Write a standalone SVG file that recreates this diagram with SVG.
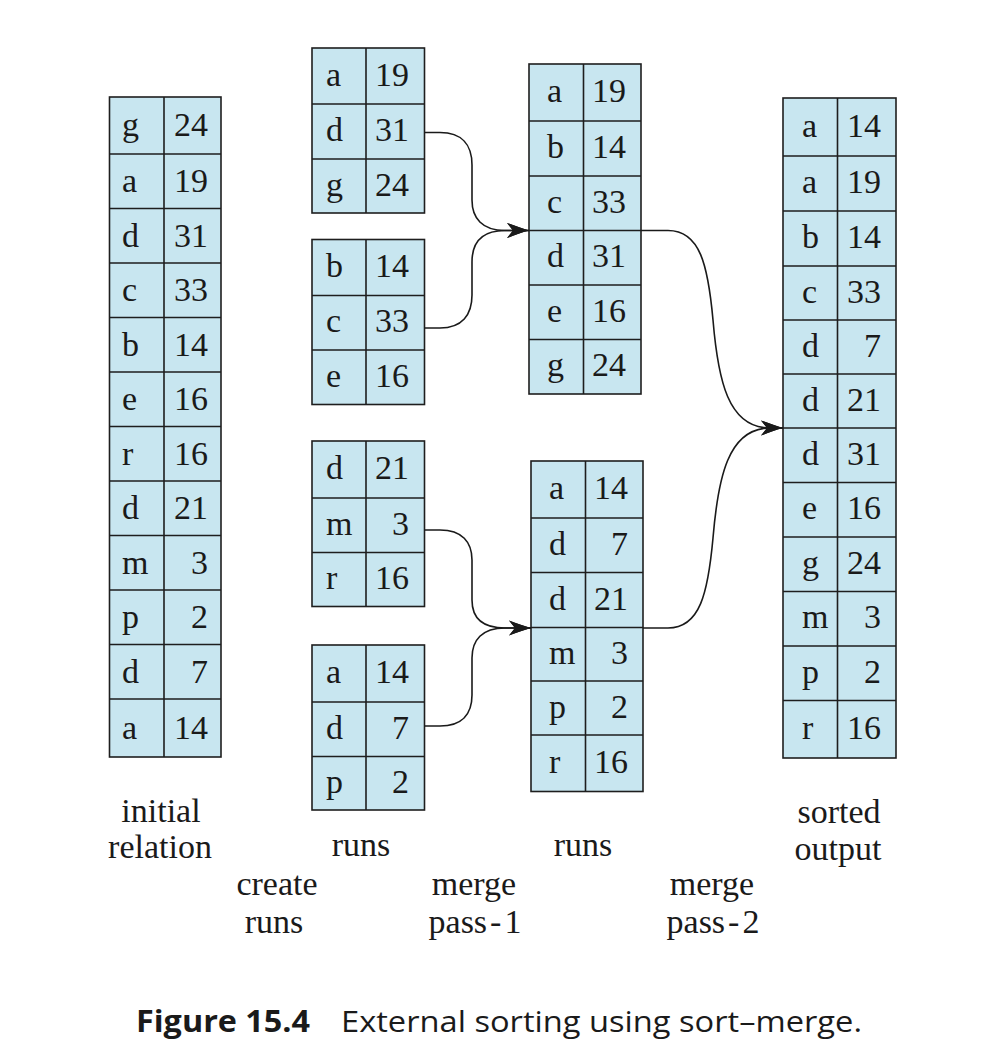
<svg xmlns="http://www.w3.org/2000/svg" width="1000" height="1061" viewBox="0 0 1000 1061">
  <defs>
    <style>
      .box { fill: #c8e6f0; stroke: #1e1e1e; stroke-width: 1.6; }
      .grid { fill: none; stroke: #1e1e1e; stroke-width: 1.6; }
      .cell { font-family: "Liberation Serif", "Times New Roman", serif; font-size: 34px; fill: #1a1a1a; }
      .num { text-anchor: end; }
      .label { font-family: "Liberation Serif", "Times New Roman", serif; font-size: 34px; fill: #1a1a1a; text-anchor: middle; }
      .conn { fill: none; stroke: #1a1a1a; stroke-width: 1.6; }
      .cap { font-family: "Open Sans", "Noto Sans", sans-serif; font-size: 30px; fill: #1a1a1a; }
    </style>
    <marker id="arrowhead" markerUnits="userSpaceOnUse" viewBox="-23 -8 25 16" refX="0" refY="0" markerWidth="25" markerHeight="16" orient="auto">
      <path d="M0,0 C-6,-1.5 -14,-4.5 -22,-7.5 L-16,0 L-22,7.5 C-14,4.5 -6,1.5 0,0 Z" fill="#1a1a1a"/>
    </marker>
  </defs>

  <rect width="1000" height="1061" fill="#ffffff"/>

  <!-- initial relation -->
  <g id="initial-relation">
    <rect class="box" x="109.5" y="97" width="111.5" height="660"/>
    <path class="grid" d="M164,97 V757 M109.5,154 H221 M109.5,208.5 H221 M109.5,263 H221 M109.5,317.5 H221 M109.5,372 H221 M109.5,426.5 H221 M109.5,481 H221 M109.5,535.5 H221 M109.5,590 H221 M109.5,644.5 H221 M109.5,699 H221"/>
    <g class="cell">
      <text x="122" y="136">g</text><text class="num" x="208" y="136">24</text>
      <text x="122" y="192">a</text><text class="num" x="208" y="192">19</text>
      <text x="122" y="246.5">d</text><text class="num" x="208" y="246.5">31</text>
      <text x="122" y="301">c</text><text class="num" x="208" y="301">33</text>
      <text x="122" y="355.5">b</text><text class="num" x="208" y="355.5">14</text>
      <text x="122" y="410">e</text><text class="num" x="208" y="410">16</text>
      <text x="122" y="464.5">r</text><text class="num" x="208" y="464.5">16</text>
      <text x="122" y="519">d</text><text class="num" x="208" y="519">21</text>
      <text x="122" y="573.5">m</text><text class="num" x="208" y="573.5">3</text>
      <text x="122" y="628">p</text><text class="num" x="208" y="628">2</text>
      <text x="122" y="682.5">d</text><text class="num" x="208" y="682.5">7</text>
      <text x="122" y="739">a</text><text class="num" x="208" y="739">14</text>
    </g>
  </g>

  <!-- runs created from the initial relation -->
  <g id="run-1">
    <rect class="box" x="312" y="48" width="112.5" height="165"/>
    <path class="grid" d="M366,48 V213 M312,104 H424.5 M312,159 H424.5"/>
    <g class="cell">
      <text x="326" y="85.5">a</text><text class="num" x="409" y="85.5">19</text>
      <text x="326" y="141">d</text><text class="num" x="409" y="141">31</text>
      <text x="326" y="195.5">g</text><text class="num" x="409" y="195.5">24</text>
    </g>
  </g>
  <g id="run-2">
    <rect class="box" x="312" y="239.5" width="112.5" height="165"/>
    <path class="grid" d="M366,239.5 V404.5 M312,295.5 H424.5 M312,350 H424.5"/>
    <g class="cell">
      <text x="326" y="277">b</text><text class="num" x="409" y="277">14</text>
      <text x="326" y="332.3">c</text><text class="num" x="409" y="332.3">33</text>
      <text x="326" y="386.8">e</text><text class="num" x="409" y="386.8">16</text>
    </g>
  </g>
  <g id="run-3">
    <rect class="box" x="312" y="441" width="112.5" height="165.5"/>
    <path class="grid" d="M366,441 V606.5 M312,498 H424.5 M312,552.5 H424.5"/>
    <g class="cell">
      <text x="326" y="479">d</text><text class="num" x="409" y="479">21</text>
      <text x="326" y="534.8">m</text><text class="num" x="409" y="534.8">3</text>
      <text x="326" y="589">r</text><text class="num" x="409" y="589">16</text>
    </g>
  </g>
  <g id="run-4">
    <rect class="box" x="312" y="645" width="112.5" height="165"/>
    <path class="grid" d="M366,645 V810 M312,702 H424.5 M312,756.5 H424.5"/>
    <g class="cell">
      <text x="326" y="683">a</text><text class="num" x="409" y="683">14</text>
      <text x="326" y="738.8">d</text><text class="num" x="409" y="738.8">7</text>
      <text x="326" y="792.8">p</text><text class="num" x="409" y="792.8">2</text>
    </g>
  </g>

  <!-- runs after merge pass 1 -->
  <g id="merged-run-1">
    <rect class="box" x="529" y="64" width="112" height="330"/>
    <path class="grid" d="M583.5,64 V394 M529,121 H641 M529,176 H641 M529,230.5 H641 M529,285 H641 M529,339.5 H641"/>
    <g class="cell">
      <text x="547" y="102">a</text><text class="num" x="626" y="102">19</text>
      <text x="547" y="158">b</text><text class="num" x="626" y="158">14</text>
      <text x="547" y="212.8">c</text><text class="num" x="626" y="212.8">33</text>
      <text x="547" y="267.3">d</text><text class="num" x="626" y="267.3">31</text>
      <text x="547" y="321.8">e</text><text class="num" x="626" y="321.8">16</text>
      <text x="547" y="376.3">g</text><text class="num" x="626" y="376.3">24</text>
    </g>
  </g>
  <g id="merged-run-2">
    <rect class="box" x="531" y="461" width="112" height="330.5"/>
    <path class="grid" d="M585.5,461 V791.5 M531,518 H643 M531,572.5 H643 M531,627.5 H643 M531,681 H643 M531,735 H643"/>
    <g class="cell">
      <text x="549" y="499">a</text><text class="num" x="628" y="499">14</text>
      <text x="549" y="554.8">d</text><text class="num" x="628" y="554.8">7</text>
      <text x="549" y="609.5">d</text><text class="num" x="628" y="609.5">21</text>
      <text x="549" y="663.8">m</text><text class="num" x="628" y="663.8">3</text>
      <text x="549" y="717.5">p</text><text class="num" x="628" y="717.5">2</text>
      <text x="549" y="772.8">r</text><text class="num" x="628" y="772.8">16</text>
    </g>
  </g>

  <!-- final sorted output -->
  <g id="sorted-output">
    <rect class="box" x="783" y="98" width="113" height="660"/>
    <path class="grid" d="M837.5,98 V758 M783,156 H896 M783,211 H896 M783,266 H896 M783,320 H896 M783,374 H896 M783,428 H896 M783,482.5 H896 M783,537 H896 M783,591.5 H896 M783,646 H896 M783,700.5 H896"/>
    <g class="cell">
      <text x="802" y="136.5">a</text><text class="num" x="881" y="136.5">14</text>
      <text x="802" y="193">a</text><text class="num" x="881" y="193">19</text>
      <text x="802" y="248">b</text><text class="num" x="881" y="248">14</text>
      <text x="802" y="302.5">c</text><text class="num" x="881" y="302.5">33</text>
      <text x="802" y="356.5">d</text><text class="num" x="881" y="356.5">7</text>
      <text x="802" y="410.5">d</text><text class="num" x="881" y="410.5">21</text>
      <text x="802" y="464.8">d</text><text class="num" x="881" y="464.8">31</text>
      <text x="802" y="519.3">e</text><text class="num" x="881" y="519.3">16</text>
      <text x="802" y="573.8">g</text><text class="num" x="881" y="573.8">24</text>
      <text x="802" y="628.3">m</text><text class="num" x="881" y="628.3">3</text>
      <text x="802" y="682.8">p</text><text class="num" x="881" y="682.8">2</text>
      <text x="802" y="738.8">r</text><text class="num" x="881" y="738.8">16</text>
    </g>
  </g>

  <!-- merge connectors -->
  <g id="connectors">
    <path class="conn" marker-end="url(#arrowhead)" d="M424.5,132.5 L440,132.5 C462,132.5 472,145 472,165 L472,200 C472,218 482,230.5 505,230.5 L529,230.5"/>
    <path class="conn" marker-end="url(#arrowhead)" d="M424.5,328 L440,328 C462,328 472,315 472,295 L472,262 C472,242 482,230.5 505,230.5 L529,230.5"/>
    <path class="conn" marker-end="url(#arrowhead)" d="M424.5,530 L440,530 C462,530 472,542 472,560 L472,600 C472,618 482,628 505,628 L531,628"/>
    <path class="conn" marker-end="url(#arrowhead)" d="M424.5,726 L440,726 C462,726 472,714 472,695 L472,658 C472,640 482,628 505,628 L531,628"/>
    <path class="conn" marker-end="url(#arrowhead)" d="M641,230.5 L668,230.5 C700,230.5 708,265 713,320 C718,380 728,428 770,428 L783,428"/>
    <path class="conn" marker-end="url(#arrowhead)" d="M643,628 L668,628 C700,628 708,593 713,538 C718,478 728,428 770,428 L783,428"/>
  </g>

  <!-- stage labels -->
  <g id="labels">
    <text class="label" x="161" y="821.5">initial</text>
    <text class="label" x="160" y="858">relation</text>
    <text class="label" x="361" y="856">runs</text>
    <text class="label" x="583" y="856">runs</text>
    <text class="label" x="839" y="823">sorted</text>
    <text class="label" x="838" y="860">output</text>
    <text class="label" x="277" y="895">create</text>
    <text class="label" x="274" y="932.5">runs</text>
    <text class="label" x="474" y="895">merge</text>
    <text class="label" x="475" y="933">pass<tspan dx="3">-</tspan><tspan dx="3">1</tspan></text>
    <text class="label" x="712" y="895">merge</text>
    <text class="label" x="713" y="933">pass<tspan dx="3">-</tspan><tspan dx="3">2</tspan></text>
  </g>

  <!-- caption -->
  <g id="caption">
    <text class="cap" x="136" y="1032" font-weight="bold" textLength="174" lengthAdjust="spacingAndGlyphs">Figure 15.4</text>
    <text class="cap" x="341" y="1032" textLength="521" lengthAdjust="spacingAndGlyphs">External sorting using sort–merge.</text>
  </g>
</svg>
